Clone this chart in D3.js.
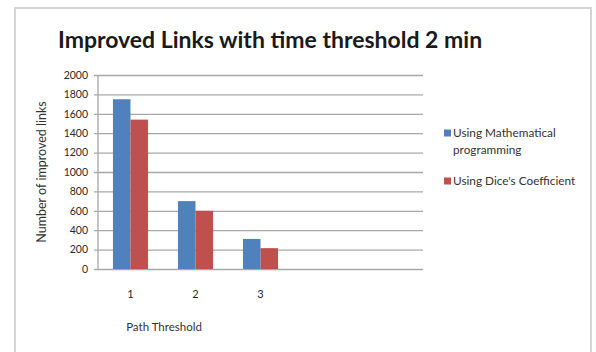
<!DOCTYPE html>
<html lang="en">
<head>
    <meta charset="UTF-8">
    <title>Improved Links with time threshold 2 min</title>
    <style>
        body { margin: 0; background: #fff; }
        svg { display: block; }
        text { font-family: Lato, "Open Sans", sans-serif; fill: #333; }
    </style>
</head>
<body>
<svg id="chart" width="596" height="352"></svg>

<script src="https://d3js.org/d3.v7.min.js"></script>
<script>
    // Chart data
    const categories = ["1", "2", "3", "", ""];   // two empty slots, as in the original sheet
    const mathProgramming = [1750, 700, 310, null, null];
    const diceCoefficient = [1540, 600, 215, null, null];
    const yTicks = [0, 200, 400, 600, 800, 1000, 1200, 1400, 1600, 1800, 2000];
    const seriesNames = ["Using Mathematical programming", "Using Dice's Coefficient"];
    const seriesColors = ["#4f81bd", "#c0504d"];

    const svg = d3.select("#chart");

    // outer frame
    svg.append("rect")
        .attr("x", 15).attr("y", 8)
        .attr("width", 576).attr("height", 380)
        .style("fill", "#fff")
        .style("stroke", "#d4d4d4")
        .style("stroke-width", 2);

    // plot area
    const plot = {left: 98, right: 423, top: 75, bottom: 269};

    const x = d3.scaleBand()
        .domain(d3.range(categories.length))
        .range([plot.left, plot.right])
        .paddingInner(0.46)
        .paddingOuter(0.23);

    const xInner = d3.scaleBand()
        .domain([0, 1])
        .range([0, x.bandwidth()]);

    const y = d3.scaleLinear()
        .domain([0, 2000])
        .range([plot.bottom, plot.top]);

    // gridlines + y axis
    const yAxis = d3.axisLeft(y)
        .tickValues(yTicks)
        .tickFormat(d3.format("d"))
        .tickSize(-(plot.right - plot.left))
        .tickPadding(10);

    const gy = svg.append("g")
        .attr("transform", `translate(${plot.left},0)`)
        .call(yAxis);
    gy.select(".domain").remove();
    gy.selectAll(".tick line")
        .attr("x1", -4)
        .style("stroke", "#a8a8a8")
        .style("stroke-width", 1.3);
    gy.selectAll(".tick text")
        .style("font-size", "10.5px")
        .style("fill", "#2a2a2a");

    // vertical axis line
    svg.append("line")
        .attr("x1", plot.left).attr("x2", plot.left)
        .attr("y1", plot.top).attr("y2", plot.bottom)
        .style("stroke", "#a8a8a8")
        .style("stroke-width", 1.3);

    // bars
    const series = [mathProgramming, diceCoefficient];
    series.forEach((values, si) => {
        svg.append("g")
            .selectAll("rect")
            .data(values.map((v, i) => ({i, v})).filter(d => d.v !== null))
            .enter().append("rect")
            .attr("x", d => x(d.i) + xInner(si))
            .attr("y", d => y(d.v))
            .attr("width", xInner.bandwidth())
            .attr("height", d => y(0) - y(d.v))
            .style("fill", seriesColors[si]);
    });

    // x tick labels
    const xAxis = d3.axisBottom(x)
        .tickSize(0)
        .tickPadding(21)
        .tickFormat(i => categories[i]);
    const gx = svg.append("g")
        .attr("transform", `translate(0,${plot.bottom})`)
        .call(xAxis);
    gx.select(".domain").remove();
    gx.selectAll(".tick text")
        .style("font-size", "11px")
        .style("fill", "#2a2a2a");

    // title
    svg.append("text")
        .attr("x", 58).attr("y", 48)
        .style("font-size", "23px")
        .style("font-weight", "bold")
        .style("fill", "#1a1a1a")
        .text("Improved Links with time threshold 2 min");

    // axis titles
    svg.append("text")
        .attr("transform", "translate(46,172) rotate(-90)")
        .attr("text-anchor", "middle")
        .style("font-size", "12.5px")
        .text("Number of improved links");

    svg.append("text")
        .attr("x", 164).attr("y", 331)
        .attr("text-anchor", "middle")
        .style("font-size", "11.5px")
        .text("Path Threshold");

    // legend
    const legend = svg.append("g").attr("transform", "translate(444,0)");
    const legendRows = [
        {y: 133, lines: ["Using Mathematical", "programming"]},
        {y: 181, lines: ["Using Dice's Coefficient"]}
    ];
    legendRows.forEach((row, i) => {
        legend.append("rect")
            .attr("x", 0).attr("y", row.y - 3.5)
            .attr("width", 7).attr("height", 7)
            .style("fill", seriesColors[i]);
        row.lines.forEach((line, j) => {
            legend.append("text")
                .attr("x", 9).attr("y", row.y + 4 + j * 17)
                .style("font-size", "11.8px")
                .text(line);
        });
    });
</script>
</body>
</html>
